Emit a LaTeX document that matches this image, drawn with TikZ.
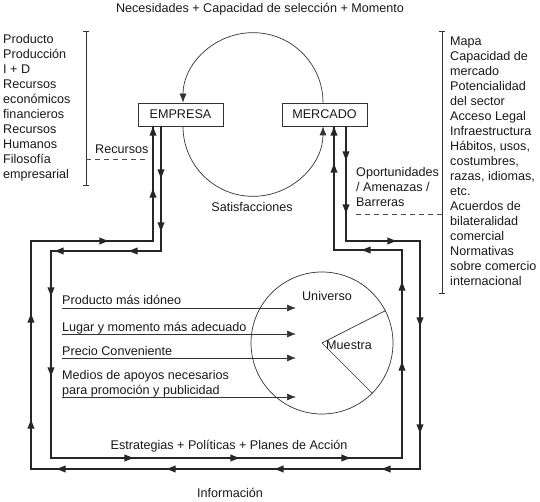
\documentclass[tikz,border=0pt]{standalone}
\usepackage{fontspec}
\setmainfont{Liberation Sans}
\usetikzlibrary{arrows.meta,decorations.markings}
\newcommand\flowtip{\fill[black!85] (4pt,0pt) -- (-5pt,3.6pt) -- (-5pt,-3.6pt) -- cycle;}
\begin{document}
\begin{tikzpicture}[x=1pt,y=-1pt,
  every node/.style={font=\fontsize{12.6pt}{15pt}\selectfont, text=black!90, inner sep=0pt},
  box/.style={draw=black!80, line width=0.7pt, minimum width=85pt, minimum height=23pt},
  thinline/.style={draw=black!80, line width=0.7pt},
  dashline/.style={draw=black!70, line width=0.7pt, dash pattern=on 5pt off 4pt},
  flow/.style={draw=black!85, line width=1.3pt},
  tip/.style={-{Latex[length=9pt,width=7pt]}},
]
\useasboundingbox (0,0) rectangle (540,502);

% top label
\node[anchor=base] (top) at (260,13) {Necesidades + Capacidad de selección + Momento};

% boxes
\node[box] (emp) at (180.5,114.5) {EMPRESA};
\node[box] (merc) at (324.5,114.5) {MERCADO};

% cycle arcs
\draw[thinline,tip] (merc.north -| 323,0) arc[start angle=0,end angle=180,radius=70pt];
\draw[thinline,tip] (emp.south -| 183,0) arc[start angle=180,end angle=360,radius=70pt];
\node[anchor=base] (satis) at (252,212) {Satisfacciones};

% left list (base anchor = last line)
\node[anchor=base west, align=left] (llist) at (3,179) {Producto\\Producción\\I + D\\Recursos\\económicos\\financieros\\Recursos\\Humanos\\Filosofía\\empresarial};
\draw[thinline] (83,31) -- (89,31) (86,31) -- (86,185) (83,185) -- (89,185);
\node[anchor=base west] (recur) at (95,154) {Recursos};
\draw[dashline] (86,159) -- (148,159);

% right list
\node[anchor=base west, align=left] (rlist) at (450,286) {Mapa\\Capacidad de\\mercado\\Potencialidad\\del sector\\Acceso Legal\\Infraestructura\\Hábitos, usos,\\costumbres,\\razas, idiomas,\\etc.\\Acuerdos de\\bilateralidad\\comercial\\Normativas\\sobre comercio\\internacional};
\draw[thinline] (439,31) -- (445,31) (442,31) -- (442,293) (439,293) -- (445,293);
\node[anchor=base west, align=left] (oport) at (356,207) {Oportunidades\\/ Amenazas /\\Barreras};
\draw[dashline] (356,214) -- (442,214);

% outer loop
\draw[flow, postaction={decorate}, decoration={markings,
  mark=at position 30pt with {\flowtip},
  mark=at position 83pt with {\flowtip},
  mark=at position 161pt with {\flowtip},
  mark=at position 270pt with {\flowtip},
  mark=at position 377pt with {\flowtip},
  mark=at position 451pt with {\flowtip},
  mark=at position 558pt with {\flowtip},
  mark=at position 666pt with {\flowtip},
  mark=at position 776pt with {\flowtip},
  mark=at position 851pt with {\flowtip},
  mark=at position 957pt with {\flowtip},
  mark=at position 1107pt with {\flowtip},
  mark=at position 1204pt with {\flowtip},
  mark=at position 1266pt with {\flowtip}}]
  (merc.south -| 346,0) |- (420,241) |- (31,469) |- (153,241) -- (emp.south -| 153,0);

% inner loop
\draw[flow, postaction={decorate}, decoration={markings,
  mark=at position 48pt with {\flowtip},
  mark=at position 101pt with {\flowtip},
  mark=at position 153pt with {\flowtip},
  mark=at position 227pt with {\flowtip},
  mark=at position 276pt with {\flowtip},
  mark=at position 356pt with {\flowtip},
  mark=at position 520pt with {\flowtip},
  mark=at position 626pt with {\flowtip},
  mark=at position 737pt with {\flowtip},
  mark=at position 885pt with {\flowtip},
  mark=at position 965pt with {\flowtip},
  mark=at position 1037pt with {\flowtip},
  mark=at position 1151pt with {\flowtip},
  mark=at position 1188pt with {\flowtip}}]
  (emp.south -| 161,0) |- (51,251) |- (402,458) |- (334,250) -- (merc.south -| 334,0);

% universe
\node[draw=black!80, line width=0.7pt, circle, minimum size=142pt] (univ) at (322,343) {};
\draw[thinline] (univ.27) -- (univ.center) -- (univ.-45);
\node[anchor=base] (uni) at (327,300) {Universo};
\node[anchor=base] (mue) at (349,349) {Muestra};

% labels with arrows
\coordinate (tipx) at (296,0);
\node[anchor=base west] (p1) at (62,304) {Producto más idóneo};
\node[anchor=base west] (p2) at (62,331) {Lugar y momento más adecuado};
\node[anchor=base west] (p3) at (62,355) {Precio Conveniente};
\node[anchor=base west, align=left] (p4) at (62,394) {Medios de apoyos necesarios\\para promoción y publicidad};
\draw[thinline,tip] (p1.base west) ++(0,4) coordinate (p1s) -- (p1s -| tipx);
\draw[thinline,tip] (p2.base west) ++(0,3) coordinate (p2s) -- (p2s -| tipx);
\draw[thinline,tip] (p3.base west) ++(0,3) coordinate (p3s) -- (p3s -| tipx);
\draw[thinline,tip] (p4.base west) ++(0,3) coordinate (p4s) -- (p4s -| tipx);

\node[anchor=base] (estr) at (229,449) {Estrategias + Políticas + Planes de Acción};
\node[anchor=base] (info) at (230,497) {Información};
\end{tikzpicture}
\end{document}
